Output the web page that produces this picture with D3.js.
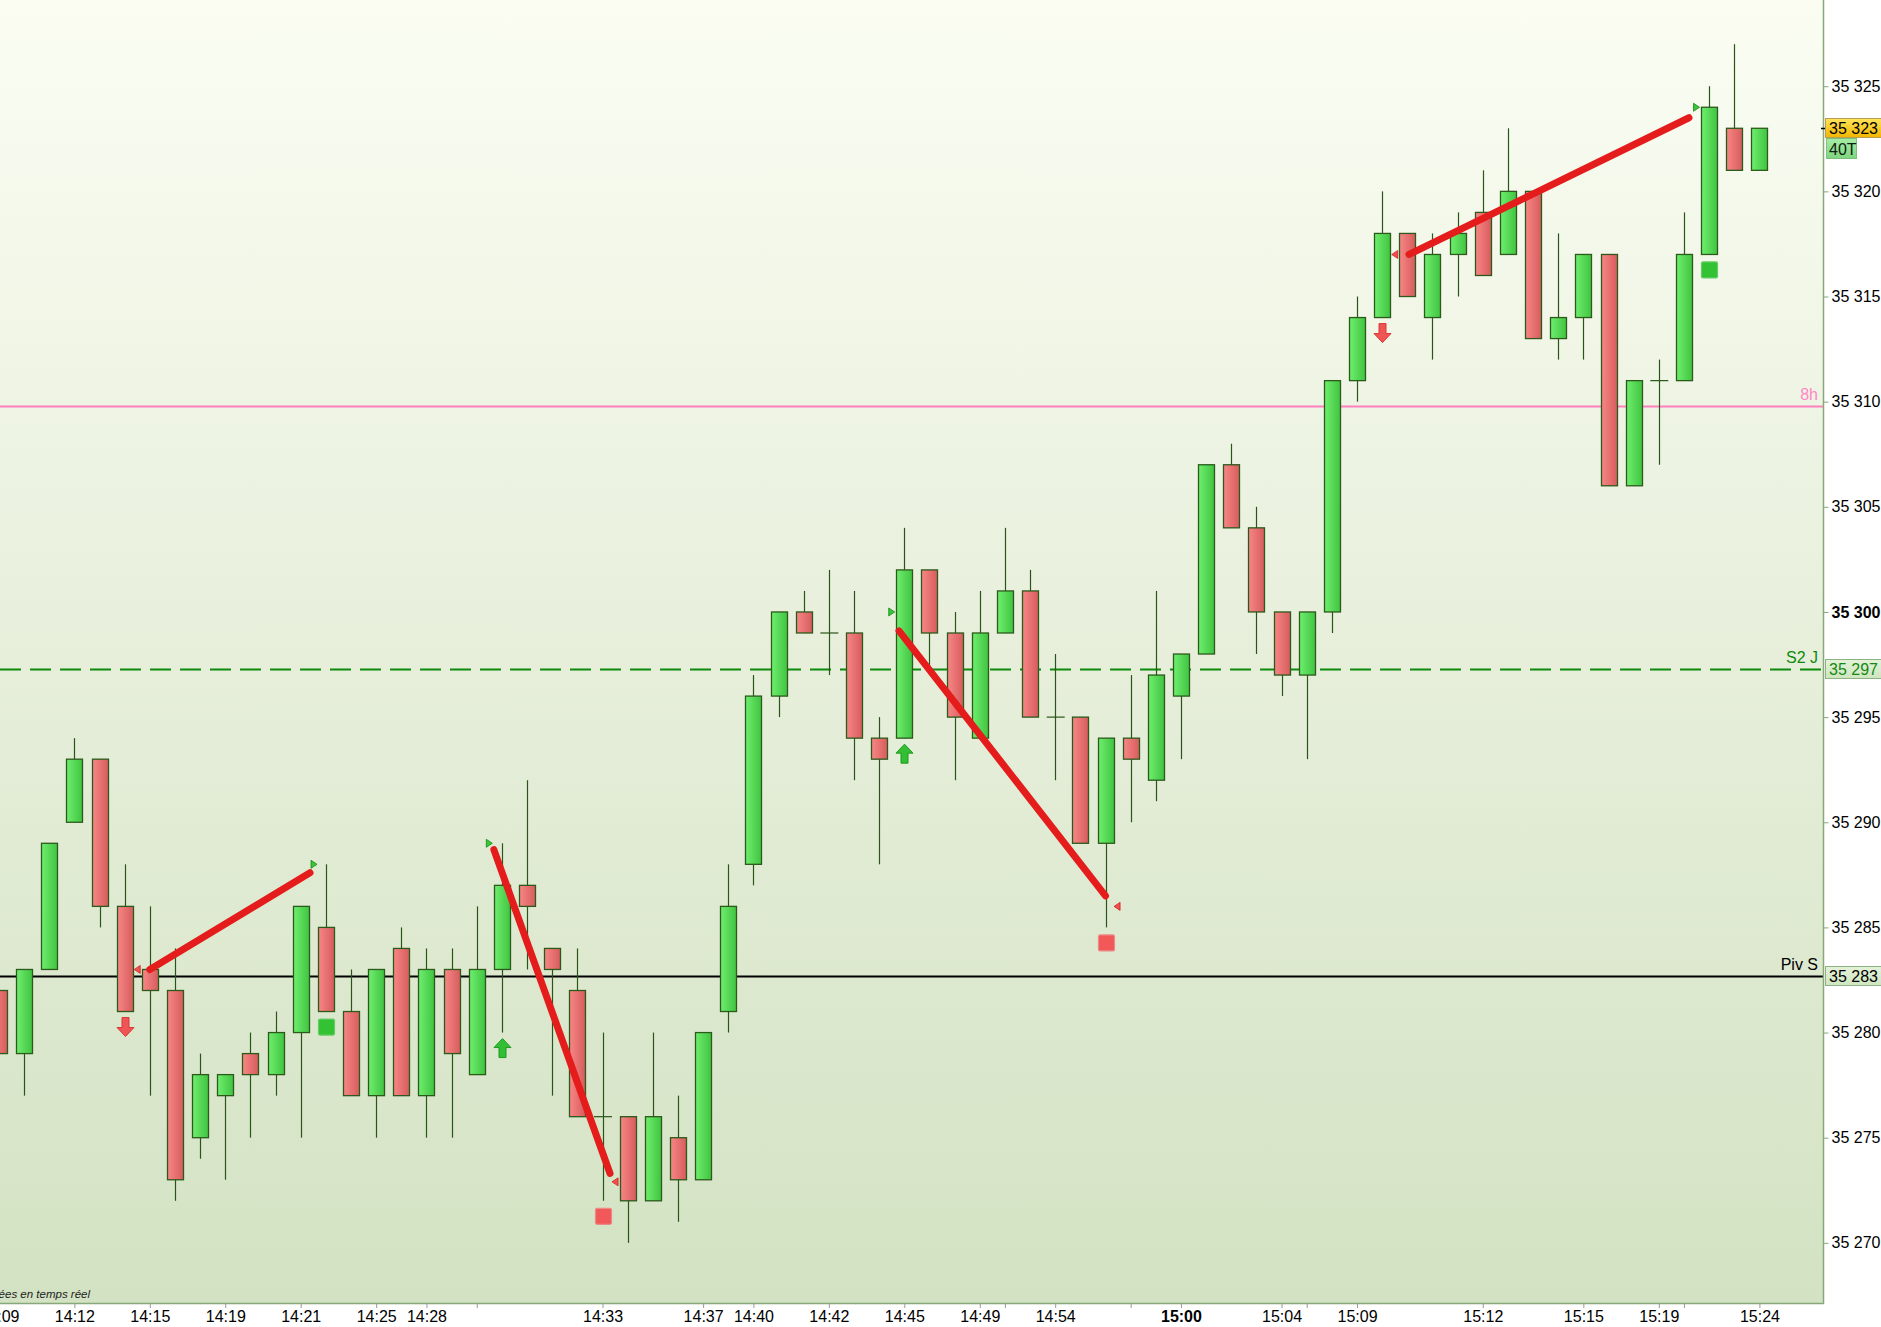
<!DOCTYPE html>
<html>
<head>
<meta charset="utf-8">
<script src="https://cdn.jsdelivr.net/npm/d3@7"></script>
<style>
  html, body { margin: 0; padding: 0; background: #fff; overflow: hidden; }
  svg { display: block; font-family: "Liberation Sans", Arial, sans-serif; }
</style>
</head>
<body>
<div id="chart"></div>
<script>
// 40-tick candles, index 0..70
const opens  = [35282,35279,35283,35290,35293,35286,35283,35282,35275,35277,35279,35278,35280,35285,35281,35277,35284,35277,35283,35278,
                35283,35287,35284,35282,35276,35276,35272,35275,35273,35281,35288,35296,35300,35299,35299,35294,35294,35302,35299,35294,
                35299,35301,35295,35295,35289,35294,35292,35296,35298,35307,35304,35300,35297,35300,35311,35314,35318,35314,35317,35319,
                35317,35320,35313,35314,35317,35306,35311,35311,35317,35323,35321];
const highs  = [35282,35283,35289,35294,35293,35288,35286,35284,35279,35278,35280,35281,35286,35288,35283,35283,35285,35284,35284,35286,
                35289,35292,35284,35284,35280,35276,35280,35277,35280,35288,35297,35300,35301,35302,35301,35295,35304,35302,35300,35301,
                35304,35302,35298,35295,35294,35297,35301,35298,35307,35308,35305,35300,35300,35311,35315,35320,35318,35318,35319,35321,
                35323,35320,35318,35317,35317,35311,35312,35319,35325,35327,35323];
const lows   = [35279,35277,35283,35290,35285,35281,35277,35272,35274,35273,35275,35277,35275,35281,35277,35275,35277,35275,35275,35278,
                35280,35283,35277,35276,35272,35270,35272,35271,35273,35280,35287,35295,35299,35297,35292,35288,35294,35297,35292,35294,
                35299,35295,35292,35289,35285,35290,35291,35293,35298,35304,35298,35296,35293,35299,35310,35314,35315,35312,35315,35316,
                35317,35313,35312,35312,35306,35306,35307,35311,35317,35321,35321];
const closes = [35279,35283,35289,35293,35286,35281,35282,35273,35278,35278,35278,35280,35286,35281,35277,35283,35277,35283,35279,35283,
                35287,35286,35283,35276,35276,35272,35276,35273,35280,35286,35296,35300,35299,35299,35294,35293,35302,35299,35295,35299,
                35301,35295,35295,35289,35294,35293,35297,35298,35307,35304,35300,35297,35300,35311,35314,35318,35315,35317,35318,35316,
                35320,35313,35314,35317,35306,35311,35311,35317,35324,35321,35323];

// time axis
const tickIdx    = [0,3,6,9,12,15,17,24,28,30,33,36,39,42,47,51,54,59,63,66,70];
const tickLabels = ["14:09","14:12","14:15","14:19","14:21","14:25","14:28","14:33","14:37","14:40","14:42",
                    "14:45","14:49","14:54","15:00","15:04","15:09","15:12","15:15","15:19","15:24"];
const minorIdx   = [19,40,45,52,67];

// price axis
const priceTicks = [35270,35275,35280,35285,35290,35295,35300,35305,35310,35315,35320,35325];

// horizontal levels
const levelNames  = ["8h", "S2 J", "Piv S"];
const levelPrices = [35309.8, 35297.3, 35282.7];
const levelTags   = [null, 35297, 35283];

// signals
const arrowsDown   = [5, 55];
const arrowsUp     = [20, 36];
const squaresGreen = [13, 68];
const squaresRed   = [24, 44];
const segments = [
  [[6.0, 35283.0], [12.37, 35287.6]],
  [[19.68, 35288.7], [24.3, 35273.3]],
  [[35.79, 35299.1], [44.0, 35286.5]],
  [[56.07, 35317.0], [67.2, 35323.5]]
];
const triLeft  = [[5.5, 35283.0], [24.5, 35272.9], [44.46, 35286.0], [55.5, 35317.0]];
const triRight = [[12.53, 35288.0], [19.5, 35289.0], [35.5, 35300.0], [67.5, 35324.0]];

const lastPrice = 35323;
const barLabel = "40T";

const W = 1881, H = 1327;
const plotR = 1823, plotB = 1303;

const svg = d3.select('#chart').append('svg')
  .attr('width', W)
  .attr('height', H);

const x = d3.scaleLinear().domain([0, 70]).range([-1.1, -1.1 + 70 * 25.15]);
const y = d3.scaleLinear().domain([35267.14, 35329.1]).range([plotB, 0]);

const defs = svg.append('defs');
function hGrad(id, c0, c1) {
  const g = defs.append('linearGradient').attr('id', id)
    .attr('x1', 0).attr('x2', 1).attr('y1', 0).attr('y2', 0);
  g.append('stop').attr('offset', 0).attr('stop-color', c0);
  g.append('stop').attr('offset', 1).attr('stop-color', c1);
}
function vGrad(id, stops) {
  const g = defs.append('linearGradient').attr('id', id)
    .attr('x1', 0).attr('x2', 0).attr('y1', 0).attr('y2', 1);
  stops.forEach(s => g.append('stop').attr('offset', s[0]).attr('stop-color', s[1]));
}
hGrad('gUp', '#6eee6e', '#40c440');
hGrad('gDn', '#f88686', '#d65c5c');
vGrad('gBg', [[0, '#fbfdf3'], [0.5, '#e7efdb'], [1, '#d3e2c3']]);
vGrad('gGold', [[0, '#ffe45a'], [1, '#f2b600']]);
vGrad('gTag', [[0, '#e4f2d8'], [1, '#cfe5c0']]);
vGrad('gBar', [[0, '#a6eca6'], [1, '#7fd57f']]);

defs.append('clipPath').attr('id', 'plotClip')
  .append('rect').attr('x', 0).attr('y', 0).attr('width', plotR).attr('height', plotB);

// background
svg.append('rect').attr('width', W).attr('height', H).attr('fill', '#fff');
svg.append('rect').attr('width', plotR).attr('height', plotB).attr('fill', 'url(#gBg)');

const plot = svg.append('g').attr('clip-path', 'url(#plotClip)');

// level lines
const levelColors = ['#ff7fbf', '#0b8a0b', '#000'];
levelPrices.forEach((p, k) => {
  plot.append('line')
    .attr('x1', 0).attr('x2', plotR)
    .attr('y1', Math.round(y(p)) + 0.5).attr('y2', Math.round(y(p)) + 0.5)
    .attr('stroke', levelColors[k])
    .attr('stroke-width', 2)
    .attr('stroke-dasharray', k === 1 ? '21,9' : null);
  plot.append('text')
    .attr('x', 1818).attr('y', y(p) - 6)
    .attr('text-anchor', 'end')
    .attr('font-size', 16)
    .attr('fill', k === 0 ? '#ff86c6' : levelColors[k])
    .text(levelNames[k]);
});

// candles
const bars = d3.range(opens.length).map(i => ({
  i, o: opens[i], h: highs[i], l: lows[i], c: closes[i]
}));
const bw = 16;
const cg = plot.append('g');

cg.selectAll('line.wick')
  .data(bars)
  .join('line')
  .attr('class', 'wick')
  .attr('x1', d => Math.round(x(d.i)) + 0.5)
  .attr('x2', d => Math.round(x(d.i)) + 0.5)
  .attr('y1', d => y(d.h))
  .attr('y2', d => y(d.l))
  .attr('stroke', '#2a5519')
  .attr('stroke-width', 1.2);

cg.selectAll('rect.body')
  .data(bars.filter(d => d.o !== d.c))
  .join('rect')
  .attr('class', 'body')
  .attr('x', d => Math.round(x(d.i)) + 0.5 - bw / 2)
  .attr('y', d => y(Math.max(d.o, d.c)))
  .attr('width', bw)
  .attr('height', d => Math.abs(y(d.o) - y(d.c)))
  .attr('fill', d => d.c > d.o ? 'url(#gUp)' : 'url(#gDn)')
  .attr('stroke', '#2b5a1b')
  .attr('stroke-width', 1.3);

cg.selectAll('line.doji')
  .data(bars.filter(d => d.o === d.c))
  .join('line')
  .attr('class', 'doji')
  .attr('x1', d => x(d.i) - bw / 2 - 0.5)
  .attr('x2', d => x(d.i) + bw / 2 + 1.5)
  .attr('y1', d => y(d.o))
  .attr('y2', d => y(d.o))
  .attr('stroke', '#2a5519')
  .attr('stroke-width', 1.2);

// signal lines
plot.selectAll('line.seg')
  .data(segments)
  .join('line')
  .attr('class', 'seg')
  .attr('x1', d => x(d[0][0])).attr('y1', d => y(d[0][1]))
  .attr('x2', d => x(d[1][0])).attr('y2', d => y(d[1][1]))
  .attr('stroke', '#e41c1c')
  .attr('stroke-width', 7)
  .attr('stroke-linecap', 'round');

plot.selectAll('path.tl')
  .data(triLeft)
  .join('path')
  .attr('class', 'tl')
  .attr('d', d => {
    const cx = x(d[0]), cy = y(d[1]);
    return `M${cx - 3},${cy} L${cx + 3},${cy - 4} L${cx + 3},${cy + 4} Z`;
  })
  .attr('fill', '#f05050').attr('stroke', '#d02020').attr('stroke-width', 0.8);

plot.selectAll('path.tr')
  .data(triRight)
  .join('path')
  .attr('class', 'tr')
  .attr('d', d => {
    const cx = x(d[0]), cy = y(d[1]);
    return `M${cx + 3},${cy} L${cx - 3},${cy - 4} L${cx - 3},${cy + 4} Z`;
  })
  .attr('fill', '#3cc43c').attr('stroke', '#128a12').attr('stroke-width', 0.8);

// arrows and squares under the lows
function arrowPath(cx, top, down) {
  const hw = 8.5, sw = 3.5, h = 19, hh = 9;
  if (down) {
    return `M${cx - sw},${top} L${cx + sw},${top} L${cx + sw},${top + h - hh} L${cx + hw},${top + h - hh} ` +
           `L${cx},${top + h} L${cx - hw},${top + h - hh} L${cx - sw},${top + h - hh} Z`;
  }
  return `M${cx},${top} L${cx + hw},${top + hh} L${cx + sw},${top + hh} L${cx + sw},${top + h} ` +
         `L${cx - sw},${top + h} L${cx - sw},${top + hh} L${cx - hw},${top + hh} Z`;
}
plot.selectAll('path.adn')
  .data(arrowsDown)
  .join('path')
  .attr('class', 'adn')
  .attr('d', i => arrowPath(Math.round(x(i)) + 0.5, y(lows[i]) + 6, true))
  .attr('fill', '#f05555').attr('stroke', '#d83838').attr('stroke-width', 1);

plot.selectAll('path.aup')
  .data(arrowsUp)
  .join('path')
  .attr('class', 'aup')
  .attr('d', i => arrowPath(Math.round(x(i)) + 0.5, y(lows[i]) + 6, false))
  .attr('fill', '#33bf33').attr('stroke', '#1e9a1e').attr('stroke-width', 1);

function squares(list, fill, stroke) {
  plot.append('g').selectAll('rect')
    .data(list)
    .join('rect')
    .attr('x', i => Math.round(x(i)) + 0.5 - 8)
    .attr('y', i => y(lows[i]) + 7.5)
    .attr('width', 16).attr('height', 16)
    .attr('rx', 1.5)
    .attr('fill', fill).attr('stroke', stroke).attr('stroke-width', 1.2);
}
squares(squaresGreen, '#33c233', '#66cc66');
squares(squaresRed, '#f25858', '#ec8a8a');

// small status text
svg.append('text')
  .attr('x', 90).attr('y', 1298)
  .attr('text-anchor', 'end')
  .attr('font-size', 11.5)
  .attr('font-style', 'italic')
  .attr('fill', '#222')
  .text('Données en temps réel');

// frame
svg.append('line').attr('x1', plotR + 0.5).attr('x2', plotR + 0.5).attr('y1', 0).attr('y2', plotB + 1)
  .attr('stroke', '#86a87a').attr('stroke-width', 1.5);
svg.append('line').attr('x1', 0).attr('x2', plotR + 1).attr('y1', plotB + 0.5).attr('y2', plotB + 0.5)
  .attr('stroke', '#86a87a').attr('stroke-width', 1.5);

// price axis
const fmt = d => d3.format(',')(d).replace(',', ' ');
const yAxis = svg.append('g')
  .attr('transform', `translate(${plotR + 0.5},0)`)
  .call(d3.axisRight(y).tickValues(priceTicks).tickSize(5).tickPadding(3).tickFormat(fmt));
yAxis.select('.domain').remove();
yAxis.selectAll('.tick line').attr('stroke', '#86a87a');
yAxis.selectAll('.tick text')
  .attr('font-size', 16)
  .attr('font-family', '"Liberation Sans", Arial, sans-serif')
  .attr('fill', '#000')
  .attr('font-weight', d => d === 35300 ? 'bold' : null);

// time axis
const labelOf = new Map(tickIdx.map((t, k) => [t, tickLabels[k]]));
const xAxis = svg.append('g')
  .attr('transform', `translate(0,${plotB + 1})`)
  .call(d3.axisBottom(x).tickValues(tickIdx.concat(minorIdx)).tickSize(4).tickPadding(3)
    .tickFormat(i => labelOf.get(i) || ''));
xAxis.select('.domain').remove();
xAxis.selectAll('.tick line').attr('stroke', '#999');
xAxis.selectAll('.tick text')
  .attr('font-size', 16)
  .attr('font-family', '"Liberation Sans", Arial, sans-serif')
  .attr('fill', '#000')
  .attr('font-weight', i => labelOf.get(i) === '15:00' ? 'bold' : null);

// tags on the price axis
function tag(yc, text, fill, stroke, color) {
  const g = svg.append('g');
  g.append('rect')
    .attr('x', plotR + 2.5).attr('y', Math.round(yc) - 9.5)
    .attr('width', 60).attr('height', 19)
    .attr('fill', fill).attr('stroke', stroke).attr('stroke-width', 1);
  g.append('text')
    .attr('x', plotR + 6).attr('y', yc + 6)
    .attr('font-size', 16).attr('fill', color)
    .text(text);
  return g;
}
levelTags.forEach((v, k) => {
  if (v === null) return;
  tag(y(levelPrices[k]), fmt(v), 'url(#gTag)', '#8db384', k === 1 ? '#138a13' : '#000');
});

svg.append('line')
  .attr('x1', plotR - 2).attr('x2', plotR + 4)
  .attr('y1', Math.round(y(lastPrice)) + 0.5).attr('y2', Math.round(y(lastPrice)) + 0.5)
  .attr('stroke', '#000').attr('stroke-width', 1.5);
tag(y(lastPrice), fmt(lastPrice), 'url(#gGold)', '#b8a050', '#000');

const bt = svg.append('g');
bt.append('rect')
  .attr('x', plotR + 3.5).attr('y', Math.round(y(lastPrice)) + 10.5)
  .attr('width', 30).attr('height', 20)
  .attr('fill', 'url(#gBar)').attr('stroke', '#7cc07c').attr('stroke-width', 1);
bt.append('text')
  .attr('x', plotR + 6).attr('y', y(lastPrice) + 27)
  .attr('font-size', 16).attr('fill', '#102010')
  .text(barLabel);
</script>
</body>
</html>
